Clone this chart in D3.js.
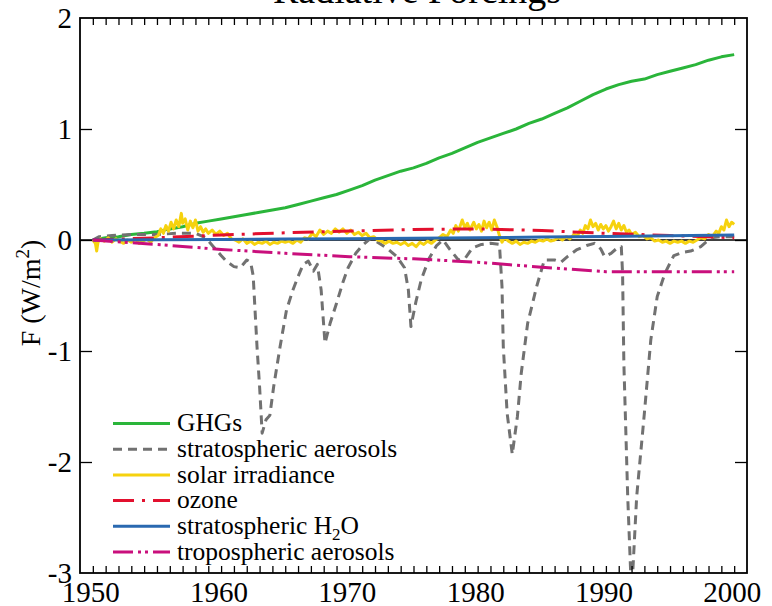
<!DOCTYPE html>
<html>
<head>
<meta charset="utf-8">
<script src="https://cdn.jsdelivr.net/npm/d3@7"></script>
<style>
body { margin: 0; background: #fff; }
text { font-family: 'Liberation Serif', 'DejaVu Serif', 'Times New Roman', Times, serif; }
</style>
</head>
<body>
<div id="chart"></div>
<script>
// values
const years = [1950, 1951, 1952, 1953, 1954, 1955, 1956, 1957, 1958, 1959,
    1960, 1961, 1962, 1963, 1964, 1965, 1966, 1967, 1968, 1969,
    1970, 1971, 1972, 1973, 1974, 1975, 1976, 1977, 1978, 1979,
    1980, 1981, 1982, 1983, 1984, 1985, 1986, 1987, 1988, 1989,
    1990, 1991, 1992, 1993, 1994, 1995, 1996, 1997, 1998, 1999, 2000];

const ghg = [0.00, 0.02, 0.03, 0.05, 0.06, 0.075, 0.10, 0.12, 0.15, 0.17,
    0.19, 0.21, 0.23, 0.25, 0.27, 0.29, 0.32, 0.35, 0.38, 0.41,
    0.45, 0.49, 0.54, 0.58, 0.62, 0.65, 0.69, 0.74, 0.78, 0.83,
    0.88, 0.92, 0.96, 1.00, 1.05, 1.09, 1.14, 1.19, 1.25, 1.31,
    1.36, 1.40, 1.43, 1.45, 1.49, 1.52, 1.55, 1.58, 1.62, 1.65, 1.67];

const slowYears = [1950, 1955, 1960, 1965, 1970, 1975, 1980, 1985, 1990, 1995, 2000];
const ozone = [0.00, 0.02, 0.045, 0.065, 0.08, 0.095, 0.10, 0.085, 0.06, 0.04, 0.02];
const stratH2O = [0.00, 0.002, 0.005, 0.008, 0.011, 0.015, 0.02, 0.026, 0.032, 0.038, 0.045];
const tropAerosols = [0.00, -0.04, -0.085, -0.12, -0.15, -0.17, -0.20, -0.245, -0.285, -0.285, -0.285];

const stratAerYears = [1950.0, 1950.5, 1951.5, 1953, 1955, 1956.5, 1958, 1958.8, 1959.4, 1960.0,
    1960.4, 1961.0, 1961.5, 1962.0, 1962.3, 1962.5, 1962.8, 1963.0, 1963.2, 1963.5,
    1963.8, 1964.1, 1964.6, 1965.1, 1965.6, 1966.0, 1966.4, 1966.8, 1967.2, 1967.5,
    1967.8, 1968.1, 1968.5, 1969.0, 1969.5, 1969.9, 1970.5, 1971.0, 1971.6, 1972.2,
    1973.0, 1973.7, 1974.3, 1974.6, 1974.8, 1975.2, 1975.6, 1976.2, 1976.8, 1977.3,
    1977.8, 1978.5, 1979.0, 1979.6, 1980.3, 1981.0, 1981.7, 1981.9, 1982.0, 1982.3,
    1982.7, 1983.1, 1983.4, 1983.9, 1984.6, 1985.2, 1986.0, 1986.5, 1987.0, 1987.7,
    1988.5, 1989.1, 1989.6, 1989.9, 1990.4, 1990.9, 1991.2, 1991.3, 1991.4, 1991.7,
    1992.0, 1992.4, 1993.0, 1993.5, 1994.0, 1994.6, 1995.3, 1996.0, 1996.6, 1997.4,
    1998.2, 1999.0, 2000.0];
const stratAerosols = [0.00, 0.03, 0.04, 0.05, 0.05, 0.06, 0.06, 0.02, -0.06, -0.14,
    -0.19, -0.24, -0.25, -0.18, -0.20, -0.32, -0.96, -1.32, -1.74, -1.62,
    -1.58, -1.32, -0.96, -0.63, -0.45, -0.33, -0.22, -0.19, -0.28, -0.22,
    -0.45, -0.93, -0.75, -0.57, -0.38, -0.25, -0.12, -0.05, 0.01, -0.02,
    -0.08, -0.15, -0.25, -0.45, -0.78, -0.55, -0.36, -0.17, -0.05, 0.00,
    -0.08, -0.18, -0.17, -0.07, -0.04, -0.03, -0.04, -0.42, -0.96, -1.56,
    -1.93, -1.59, -1.20, -0.75, -0.42, -0.18, -0.18, -0.20, -0.15, -0.09,
    -0.05, -0.03, -0.08, -0.15, -0.12, -0.07, -0.06, -0.30, -1.11, -2.31,
    -3.20, -2.31, -1.56, -0.90, -0.51, -0.30, -0.14, -0.11, -0.10, -0.06,
    0.02, 0.03, 0.03];

const solarYears = [1950.0, 1950.2, 1950.3, 1950.4, 1950.6, 1950.9, 1951.2, 1951.5, 1951.8, 1952.1,
    1952.4, 1952.7, 1953.0, 1953.3, 1953.6, 1953.9, 1954.2, 1954.5, 1954.8, 1955.1,
    1955.3, 1955.5, 1955.7, 1955.9, 1956.1, 1956.3, 1956.5, 1956.7, 1956.9, 1957.0,
    1957.2, 1957.4, 1957.6, 1957.8, 1958.0, 1958.2, 1958.4, 1958.6, 1958.8, 1959.0,
    1959.3, 1959.6, 1959.9, 1960.2, 1960.5, 1960.8, 1961.1, 1961.4, 1961.7, 1962.0,
    1962.3, 1962.6, 1962.9, 1963.2, 1963.5, 1963.8, 1964.1, 1964.4, 1964.7, 1965.0,
    1965.3, 1965.6, 1965.9, 1966.2, 1966.5, 1966.8, 1967.1, 1967.4, 1967.7, 1968.0,
    1968.3, 1968.6, 1968.9, 1969.2, 1969.5, 1969.8, 1970.1, 1970.4, 1970.7, 1971.0,
    1971.3, 1971.6, 1971.9, 1972.2, 1972.5, 1972.8, 1973.1, 1973.4, 1973.7, 1974.0,
    1974.3, 1974.6, 1974.9, 1975.2, 1975.5, 1975.8, 1976.1, 1976.4, 1976.7, 1977.0,
    1977.3, 1977.6, 1977.9, 1978.1, 1978.3, 1978.5, 1978.8, 1979.0, 1979.2, 1979.4,
    1979.7, 1979.9, 1980.1, 1980.3, 1980.5, 1980.7, 1980.9, 1981.1, 1981.3, 1981.5,
    1981.7, 1981.9, 1982.1, 1982.4, 1982.7, 1983.0, 1983.3, 1983.6, 1983.9, 1984.2,
    1984.5, 1984.8, 1985.1, 1985.4, 1985.7, 1986.0, 1986.3, 1986.6, 1986.9, 1987.2,
    1987.5, 1987.8, 1988.0, 1988.2, 1988.4, 1988.6, 1988.8, 1989.0, 1989.2, 1989.4,
    1989.6, 1989.8, 1990.0, 1990.2, 1990.4, 1990.6, 1990.8, 1991.0, 1991.2, 1991.4,
    1991.6, 1991.8, 1992.0, 1992.3, 1992.6, 1992.9, 1993.2, 1993.5, 1993.8, 1994.1,
    1994.4, 1994.7, 1995.0, 1995.3, 1995.6, 1995.9, 1996.2, 1996.5, 1996.8, 1997.1,
    1997.4, 1997.7, 1998.0, 1998.3, 1998.6, 1998.8, 1999.0, 1999.2, 1999.4, 1999.6,
    1999.8, 2000.0];
const solar = [0.00, -0.03, -0.10, -0.02, 0.01, -0.01, 0.02, -0.02, 0.01, -0.01,
    -0.03, 0.00, -0.02, 0.01, -0.03, -0.01, 0.01, -0.02, 0.02, 0.04,
    0.10, 0.06, 0.13, 0.08, 0.16, 0.10, 0.18, 0.12, 0.24, 0.15,
    0.19, 0.09, 0.17, 0.11, 0.18, 0.08, 0.12, 0.07, 0.10, 0.06,
    0.09, 0.05, 0.08, 0.04, 0.06, 0.01, 0.00, -0.02, 0.01, -0.03,
    -0.01, -0.04, -0.02, -0.03, -0.01, -0.04, -0.02, -0.03, -0.01, -0.02,
    -0.01, -0.03, 0.00, -0.02, 0.02, 0.01, 0.06, 0.03, 0.09, 0.05,
    0.08, 0.06, 0.10, 0.07, 0.10, 0.06, 0.09, 0.05, 0.07, 0.04,
    0.06, 0.02, 0.03, 0.00, -0.01, -0.03, -0.01, -0.03, -0.02, -0.04,
    -0.02, -0.05, -0.03, -0.06, -0.02, -0.04, -0.01, -0.03, 0.00, 0.02,
    0.05, 0.03, 0.09, 0.06, 0.13, 0.08, 0.18, 0.11, 0.15, 0.09,
    0.16, 0.10, 0.14, 0.08, 0.17, 0.11, 0.16, 0.09, 0.18, 0.12,
    0.04, -0.02, 0.02, -0.01, -0.03, -0.01, -0.04, -0.02, -0.03, -0.01,
    -0.02, 0.00, -0.01, 0.01, -0.01, 0.00, 0.02, 0.00, 0.03, 0.01,
    0.05, 0.04, 0.09, 0.06, 0.13, 0.10, 0.18, 0.12, 0.15, 0.09,
    0.14, 0.10, 0.13, 0.08, 0.12, 0.17, 0.10, 0.15, 0.09, 0.13,
    0.07, 0.09, 0.05, 0.07, 0.03, 0.04, 0.01, 0.02, -0.01, 0.00,
    -0.02, -0.01, -0.03, -0.01, -0.02, -0.01, -0.03, -0.01, -0.02, 0.00,
    0.02, 0.01, 0.05, 0.03, 0.08, 0.06, 0.12, 0.09, 0.18, 0.12,
    0.16, 0.14];

const xTickLabels = [1950, 1960, 1970, 1980, 1990, 2000];
const yTickLabels = [2, 1, 0, -1, -2, -3];

function pairs(xs, ys) {
    return xs.map(function (x, i) { return [x, ys[i]]; });
}

let series = [
    {name: "GHGs", points: pairs(years, ghg), color: "#2ab53a", dash: null},
    {name: "stratospheric aerosols", points: pairs(stratAerYears, stratAerosols), color: "#717171", dash: "9,6"},
    {name: "solar irradiance", points: pairs(solarYears, solar), color: "#f6d20e", dash: null},
    {name: "ozone", points: pairs(slowYears, ozone), color: "#e2102e", dash: "21,8,3,8"},
    {name: "stratospheric H2O", points: pairs(slowYears, stratH2O), color: "#2a69b0", dash: null},
    {name: "tropospheric aerosols", points: pairs(slowYears, tropAerosols), color: "#c90f7c", dash: "20,5,3,4,3,5"}
];

let width = 772,
    height = 606;
let plotLeft = 80, plotRight = 747, plotTop = 18, plotBottom = 573;
let serif = "'Liberation Serif', 'DejaVu Serif', 'Times New Roman', Times, serif";

let svg = d3.select("#chart")
    .append("svg")
    .attr("width", width)
    .attr("height", height)
    .attr("font-family", serif);

let x = d3.scaleLinear().domain([1949, 2001]).range([plotLeft, plotRight]);
let y = d3.scaleLinear().domain([-3, 2]).range([plotBottom, plotTop]);

svg.append("defs").append("clipPath")
    .attr("id", "plotclip")
    .append("rect")
    .attr("x", plotLeft).attr("y", plotTop)
    .attr("width", plotRight - plotLeft).attr("height", plotBottom - plotTop);

// zero line
svg.append("line")
    .attr("x1", plotLeft).attr("x2", plotRight)
    .attr("y1", y(0)).attr("y2", y(0))
    .attr("stroke", "black")
    .attr("stroke-width", 1.5);

let line = d3.line()
    .x(function (d) { return x(d[0]); })
    .y(function (d) { return y(d[1]); });

svg.append("g")
    .attr("clip-path", "url(#plotclip)")
    .selectAll("path")
    .data(series)
    .enter()
    .append("path")
    .attr("d", function (d) { return line(d.points); })
    .attr("fill", "none")
    .attr("stroke", function (d) { return d.color; })
    .attr("stroke-width", 3)
    .attr("stroke-dasharray", function (d) { return d.dash; })
    .attr("stroke-linejoin", "round");

// frame and ticks
let minorYears = d3.range(1950, 2001);
let tickLen = 7;

svg.append("g")
    .attr("transform", "translate(0," + plotBottom + ")")
    .call(d3.axisTop(x).tickValues(minorYears).tickSize(tickLen).tickFormat(""))
    .call(function (g) { g.select(".domain").remove(); });

svg.append("g")
    .attr("transform", "translate(0," + plotTop + ")")
    .call(d3.axisBottom(x).tickValues(minorYears).tickSize(tickLen).tickFormat(""))
    .call(function (g) { g.select(".domain").remove(); });

svg.append("g")
    .attr("transform", "translate(" + plotLeft + ",0)")
    .call(d3.axisRight(y).tickValues([1, 0, -1, -2]).tickSize(12).tickFormat(""))
    .call(function (g) { g.select(".domain").remove(); });

svg.append("g")
    .attr("transform", "translate(" + plotRight + ",0)")
    .call(d3.axisLeft(y).tickValues([1, 0, -1, -2]).tickSize(12).tickFormat(""))
    .call(function (g) { g.select(".domain").remove(); });

svg.selectAll(".tick line")
    .attr("stroke", "black")
    .attr("stroke-width", 1.3);

svg.append("rect")
    .attr("x", plotLeft).attr("y", plotTop)
    .attr("width", plotRight - plotLeft).attr("height", plotBottom - plotTop)
    .attr("fill", "none")
    .attr("stroke", "black")
    .attr("stroke-width", 1.8);

// tick labels
svg.append("g")
    .selectAll("text")
    .data(xTickLabels)
    .enter()
    .append("text")
    .attr("x", function (d) { return x(d) - 2; })
    .attr("y", 602)
    .attr("text-anchor", "middle")
    .style("font-size", "29px")
    .text(function (d) { return d; });

svg.append("g")
    .selectAll("text")
    .data(yTickLabels)
    .enter()
    .append("text")
    .attr("x", 72)
    .attr("y", function (d) { return y(d); })
    .attr("dy", "0.33em")
    .attr("text-anchor", "end")
    .style("font-size", "29px")
    .text(function (d) { return d; });

// title (cut by the top edge)
svg.append("text")
    .attr("x", 417)
    .attr("y", 3)
    .attr("text-anchor", "middle")
    .style("font-size", "38px")
    .text("Radiative Forcings");

// y axis title
let ytitle = svg.append("text")
    .attr("transform", "translate(40,293) rotate(-90)")
    .attr("text-anchor", "middle")
    .style("font-size", "28px");
ytitle.append("tspan").text("F (W/m");
ytitle.append("tspan").attr("dy", -11).style("font-size", "19px").text("2");
ytitle.append("tspan").attr("dy", 11).text(")");

// legend
let legend = svg.append("g")
    .selectAll("g")
    .data(series)
    .enter()
    .append("g")
    .attr("transform", function (d, i) { return "translate(113," + (423.5 + i * 25.7) + ")"; });

legend.append("line")
    .attr("x1", 0).attr("x2", 57)
    .attr("stroke", function (d) { return d.color; })
    .attr("stroke-width", 3)
    .attr("stroke-dasharray", function (d) { return d.dash; });

legend.append("text")
    .attr("x", 64)
    .attr("dy", "0.3em")
    .style("font-size", "25.5px")
    .each(function (d) {
        let t = d3.select(this);
        if (d.name === "stratospheric H2O") {
            t.append("tspan").text("stratospheric H");
            t.append("tspan").attr("dy", 6).style("font-size", "17px").text("2");
            t.append("tspan").attr("dy", -6).text("O");
        } else {
            t.text(d.name);
        }
    });
</script>
</body>
</html>
